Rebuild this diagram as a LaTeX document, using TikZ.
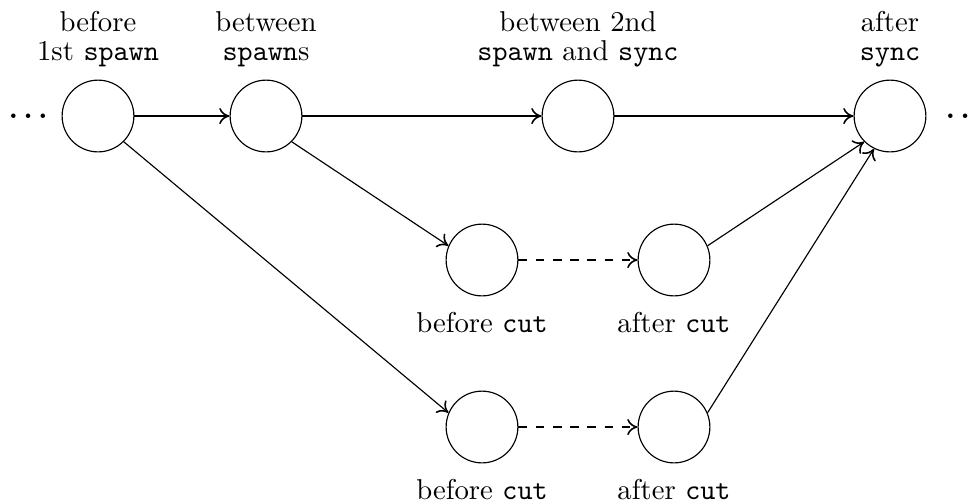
\documentclass[tikz,border=0pt]{standalone}
\usetikzlibrary{arrows.meta}
\begin{document}
\begin{tikzpicture}[x=0.3484pt,y=-0.3484pt,
  >={To[length=3.6pt,width=5.6pt,line width=0.55pt]},
  state/.style={draw,circle,minimum size=25pt,inner sep=0pt},
  toplbl/.style={align=center,inner sep=0pt,anchor=south,font=\fontsize{10}{10.2}\selectfont},
  botlbl/.style={inner sep=0pt,anchor=north},
  dotsnode/.style={inner sep=0pt,anchor=base west,font=\boldmath},
  arr/.style={->},
  darr/.style={->,dashed}]
\useasboundingbox (0,0) rectangle (971,502);
% states
\node[state] (A) at (98,116) {};
\node[state] (B) at (266,116) {};
\node[state] (C) at (578,116) {};
\node[state] (D) at (890,116) {};
\node[state] (E) at (482,260) {};
\node[state] (F) at (674,260) {};
\node[state] (G) at (482,427) {};
\node[state] (H) at (674,427) {};
% dots
\node[dotsnode] (dl) at (8.4,118) {$\ldots$};
\node[dotsnode] (dr) at (945.4,118) {$\ldots$};
% top labels
\node[toplbl] (lA) at (98,67.4) {before\\1st \texttt{spawn}};
\node[toplbl] (lB) at (266,67.4) {between\\\texttt{spawn}s};
\node[toplbl] (lC) at (578,67.4) {between 2nd\\\texttt{spawn} and \texttt{sync}};
\node[toplbl] (lD) at (890,67.4) {after\\\texttt{sync}};
% bottom labels
\node[botlbl] (lE) at (482,311.8) {before \texttt{cut}};
\node[botlbl] (lF) at (674,311.8) {after \texttt{cut}};
\node[botlbl] (lG) at (482,478.5) {before \texttt{cut}};
\node[botlbl] (lH) at (674,478.5) {after \texttt{cut}};
% connectors
\draw[arr] (A) -- (B);
\draw[arr] (B) -- (C);
\draw[arr] (C) -- (D);
\draw[arr] (A.south east) -- (G.157);
\draw[arr] (B.south east) -- (E.157);
\draw[darr] (E) -- (F);
\draw[darr] (G) -- (H);
\draw[arr] (F.23) -- (D.south west);
\draw[arr] (H.23) -- (D.244);
\end{tikzpicture}
\end{document}
